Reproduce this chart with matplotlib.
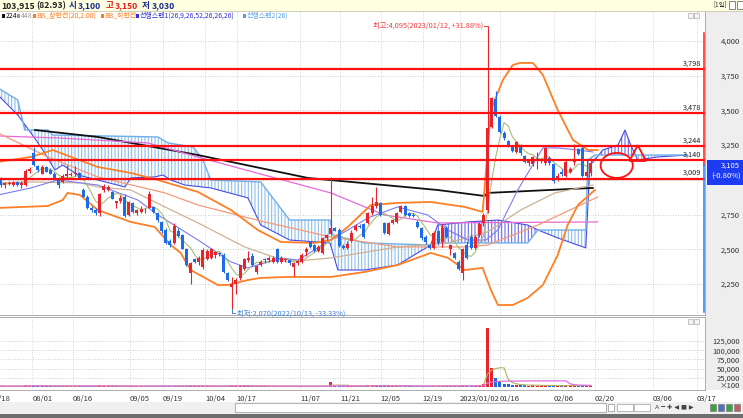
import numpy as np
import pandas as pd
import matplotlib
matplotlib.use('Agg')
import matplotlib.pyplot as plt
from matplotlib.patches import Rectangle, Ellipse, Polygon
import matplotlib.transforms as mtransforms

plt.rcParams['font.family'] = ['Noto Sans CJK KR', 'DejaVu Sans']
plt.rcParams['hatch.linewidth'] = 0.8

# ---------------- data ----------------
# daily candles (index = trading-day slot)
opens = [2985,3005,2960,2970,2965,2985,2965,2960,3065,3195,
         3100,3045,3090,3070,3045,3010,2985,3030,3035,3040,
         3050,2930,2880,2800,2780,2765,2925,2930,2910,2830,
         2850,2880,2745,2830,2765,2770,2785,2800,2805,2765,
         2700,2640,2560,2545,2635,2600,2500,2330,2430,2410,
         2370,2430,2440,2460,2470,2460,2330,2230,2250,2290,
         2360,2420,2450,2340,2390,2430,2425,2410,2500,2410,
         2420,2420,2370,2400,2410,2480,2550,2530,2490,2470,
         2580,2610,2650,2640,2525,2510,2560,2640,2670,2680,
         2690,2760,2810,2830,2690,2610,2690,2700,2770,2810,
         2760,2750,2700,2650,2590,2530,2510,2630,2550,2650,
         2500,2470,2410,2330,2530,2590,2510,2600,2690,2780,
         3380,3580,3455,3340,3280,3240,3200,3250,3170,3120,
         3115,3140,3140,3120,3160,3115,3000,3060,3030,3060,
         3130,3220,3230,3030,3050]
highs = [3000,3020,2985,2990,2995,2990,2990,3075,3090,3240,
         3110,3105,3100,3085,3055,3020,3040,3110,3060,3100,
         3060,2945,2890,2815,2800,2905,2970,2965,2920,2850,
         2890,2895,2850,2840,2790,2810,2800,2920,2815,2770,
         2705,2650,2575,2690,2650,2610,2510,2410,2440,2450,
         2510,2500,2510,2490,2480,2470,2335,2300,2290,2390,
         2440,2490,2470,2390,2420,2440,2450,2450,2510,2450,
         2440,2430,2410,2420,2470,2520,2560,2540,2530,2590,
         2610,3020,2660,2650,2540,2560,2640,2680,2680,2690,
         2770,2880,2950,2840,2700,2700,2720,2770,2820,2820,
         2770,2760,2710,2660,2600,2540,2630,2640,2680,2665,
         2540,2480,2420,2510,2560,2610,2600,2700,2760,4095,
         3600,3640,3470,3350,3290,3250,3280,3260,3180,3150,
         3170,3200,3160,3240,3170,3120,3050,3080,3150,3090,
         3260,3230,3240,3140,3150]
lows = [2965,2950,2945,2960,2955,2955,2945,2955,3050,3100,
        3060,3040,3055,3040,3010,2940,2975,3020,3025,3030,
        3005,2875,2790,2770,2750,2740,2915,2920,2860,2800,
        2830,2730,2740,2760,2750,2760,2760,2795,2760,2700,
        2620,2540,2520,2540,2590,2500,2380,2250,2400,2390,
        2360,2420,2430,2440,2455,2330,2270,2070,2180,2280,
        2350,2410,2380,2320,2380,2400,2410,2400,2400,2400,
        2410,2390,2310,2390,2400,2450,2510,2480,2480,2465,
        2570,2600,2630,2520,2500,2500,2550,2630,2650,2580,
        2680,2750,2800,2740,2610,2600,2680,2690,2760,2740,
        2730,2735,2650,2570,2540,2500,2500,2530,2520,2580,
        2460,2430,2350,2280,2430,2500,2500,2590,2670,2760,
        3370,3455,3340,3290,3240,3200,3190,3180,3120,3100,
        3100,3080,3120,3110,3110,2980,2990,3030,3020,3050,
        3110,3180,3020,3020,3030]
closes = [2975,2960,2975,2980,2985,2965,2980,3065,3080,3105,
          3070,3095,3060,3045,3015,2960,3025,3040,3045,3050,
          3010,2880,2800,2780,2765,2895,2955,2950,2865,2845,
          2870,2740,2840,2770,2785,2790,2780,2900,2770,2710,
          2630,2545,2530,2670,2595,2505,2390,2400,2410,2440,
          2495,2490,2500,2480,2465,2340,2280,2250,2280,2385,
          2430,2440,2390,2380,2410,2420,2440,2435,2410,2440,
          2430,2400,2400,2415,2460,2500,2515,2490,2520,2580,
          2605,2650,2635,2525,2510,2540,2620,2670,2660,2590,
          2760,2815,2840,2750,2620,2690,2710,2760,2810,2750,
          2740,2740,2660,2580,2550,2510,2615,2545,2650,2590,
          2530,2440,2360,2500,2440,2510,2590,2680,2750,3370,
          3590,3460,3345,3300,3245,3205,3270,3190,3130,3145,
          3165,3150,3150,3230,3120,2990,3030,3040,3130,3075,
          3140,3185,3030,3060,3125]
# volume (x100 shares)
volumes = [2600,3100,2200,2400,2900,2100,2500,5200,3600,6100,
           3300,3000,2600,2300,2500,3400,2900,3300,2400,2600,
           2300,3800,3500,2600,2400,4800,3900,2800,2500,2300,
           2200,3600,3000,2400,2000,1900,1800,4100,2600,2400,
           2800,3500,2600,3900,2400,2700,3900,5600,2300,2200,
           3600,2600,2500,2200,1800,3100,3300,6200,3400,3900,
           3300,2900,2600,2400,2100,2000,2100,1900,2800,2000,
           1900,2000,2400,1900,2300,2700,2500,2200,2300,3600,
           3000,13500,3600,3300,2400,2300,3100,2800,2000,2600,
           4300,5200,5900,3500,3300,2800,2300,2900,3100,2700,
           2200,1900,2300,2600,2400,2300,3400,2900,3600,2800,
           2700,2600,3300,5100,3600,3200,3000,4400,9500,161000,
           52000,24000,15000,9000,7000,6000,6500,5200,4800,4200,
           4500,4000,3500,5200,3800,5600,3600,3100,4300,3300,
           4700,3900,5400,3600,3300]

# indicator lines (slot, price)
ma224_x = [9.3, 24.5, 48.8, 75.4, 106.9, 118.3, 119.0, 144.5]
ma224_y = [3359, 3309, 3179, 3014, 2927, 2884, 2906, 2942]
pink_x = [0.3, 14.8, 36.6, 48.8, 58.5, 81.0, 94.0, 106.9, 145.7]
pink_y = [3316, 3302, 3266, 3165, 3086, 2906, 2747, 2690, 2697]
salmon_x = [0.3, 12.4, 24.5, 40.8, 48.8, 60.1, 65.0, 81.0, 97.2, 113.5, 119.0, 131.2, 145.7]
salmon_y = [3338, 3165, 3021, 2906, 2819, 2733, 2697, 2589, 2517, 2517, 2531, 2675, 2877]
tan_x = [0.3, 8.3, 20.4, 24.5, 32.5, 40.8, 48.8, 60.1, 70.6, 81.0, 97.2, 109.4, 119.0, 127.0, 135.3, 144.5]
tan_y = [2978, 2985, 2978, 2949, 2927, 2805, 2690, 2517, 2409, 2438, 2517, 2546, 2625, 2783, 2906, 2963]
base_x = [0.3, 8.3, 14.8, 24.5, 34.2, 39.1, 48.8, 56.8, 60.9, 68.9, 73.0, 81.0, 85.1, 90.0, 97.2,
          104.5, 109.4, 114.2, 118.6, 121.5, 126.3, 132.4, 136.0, 140.9, 144.5]
base_y = [2891, 2942, 2999, 2963, 2855, 2747, 2567, 2409, 2366, 2438, 2423, 2567, 2639, 2726, 2805,
          2747, 2639, 2567, 2567, 2639, 2927, 3230, 3230, 3215, 3201]
bb_up_x = [0.3, 8.3, 13.6, 24.5, 32.5, 39.1, 48.8, 56.8, 63.3, 68.9, 77.1, 81.0, 85.1, 90.7, 97.2,
           105.2, 113.5, 117.8, 119.8, 122.7, 125.1, 126.8, 130.0, 132.4, 136.0, 139.7, 143.3, 145.7]
bb_up_y = [3129, 3165, 3215, 3093, 3050, 2999, 2913, 2783, 2639, 2553, 2546, 2567, 2661, 2819, 2834,
           2841, 2805, 2769, 3503, 3719, 3827, 3842, 3842, 3755, 3503, 3287, 3215, 3215]
bb_dn_x = [0.3, 12.4, 16.0, 17.2, 20.2, 24.5, 32.5, 38.3, 42.2, 44.6, 47.0, 50.5, 53.6, 56.0, 60.9,
           64.0, 70.6, 81.0, 89.2, 97.2, 105.2, 109.4, 113.5, 117.8, 119.8, 121.5, 125.1, 128.7,
           132.4, 136.0, 138.4, 140.9, 145.0]
bb_dn_y = [2798, 2812, 2855, 2906, 2891, 2783, 2697, 2661, 2531, 2474, 2351, 2294, 2243, 2243, 2279,
           2294, 2301, 2301, 2337, 2387, 2474, 2438, 2351, 2366, 2207, 2099, 2099, 2150,
           2243, 2459, 2675, 2819, 2927]
span1_x = [0.3, 5.1, 8.3, 11.2, 14.1, 16.0, 19.7, 24.5, 31.1, 32.5, 38.3, 40.3, 42.2, 45.6, 51.9,
           60.9, 64.0, 71.0, 80.8, 82.7, 89.2, 97.2, 105.2, 106.9, 114.2, 121.5, 128.7, 131.2,
           136.0, 142.8, 143.8, 145.0, 146.9, 150.6, 152.3, 153.7, 155.4, 160.2, 167.5]
span1_y = [3611, 3467, 3338, 3215, 3071, 3107, 3035, 2999, 2949, 3014, 3021, 3035, 2999, 2963, 2942,
           2870, 2675, 2567, 2546, 2351, 2351, 2387, 2531, 2675, 2697, 2711, 2675, 2639,
           2582, 2510, 3107, 3143, 3215, 3251, 3359, 3251, 3143, 3165, 3179]
span2_x = [0.3, 5.1, 6.8, 12.4, 13.6, 39.1, 41.5, 47.6, 50.0, 51.9, 64.0, 71.0, 80.8, 81.5, 89.2,
           105.2, 106.9, 128.7, 131.2, 142.8, 143.3, 145.0, 167.5]
span2_y = [3662, 3575, 3359, 3359, 3323, 3309, 3266, 3237, 3143, 2999, 2985, 2711, 2711, 2603, 2546,
           2531, 2546, 2546, 2639, 2639, 3143, 3179, 3179]

levels = [3798, 3478, 3244, 3140, 3009]
level_labels = ['3,798', '3,478', '3,244', '3,140', '3,009']
price_ticks = [2250, 2500, 2750, 3000, 3250, 3500, 3750, 4000]
vol_ticks = [25000, 50000, 75000, 100000, 125000]
date_labels = ['07/18', '08/01', '08/16', '09/05', '09/19', '10/04', '10/17', '11/07', '11/21',
               '12/05', '12/19', '2023/01/02', '01/16', '02/06', '02/20', '03/06', '03/17']
date_pos = [-1.4, 8.6, 18.5, 32.3, 40.3, 50.5, 58.2, 73.5, 83.2, 93.1, 103.3, 112.3, 122.0, 135.1,
            145.0, 159.0, 169.7]

# ---------------- figure ----------------
W, H = 743, 418
fig = plt.figure(figsize=(W / 100, H / 100), dpi=100)
fig.patch.set_facecolor('white')


def box(l, t, r, b):
    return [l / W, 1 - b / H, (r - l) / W, (b - t) / H]


def frect(l, t, r, b, fc, ec='none', z=-1, lw=0.8):
    fig.add_artist(Rectangle((l / W, 1 - b / H), (r - l) / W, (b - t) / H, transform=fig.transFigure,
                             facecolor=fc, edgecolor=ec, lw=lw, zorder=z))


def ftext(x, y, s, **kw):
    fig.text(x / W, 1 - y / H, s, **kw)


# frame pieces
frect(0, 0, 743, 10.5, '#FFFFE1')
fig.add_artist(plt.Line2D([0, 1], [1 - 10.5 / H] * 2, transform=fig.transFigure, color='#C8C8B0', lw=0.6))
frect(706, 11, 743, 390, '#EEEEEE')
frect(0, 402, 743, 414, '#F0F0F0')
frect(0, 414, 743, 418, '#6E6E6E')
frect(235, 403, 606, 412, '#FFFFFF', ec='#B4B4B4', z=0)
frect(608, 404, 614, 411, '#FFFFFF', ec='#909090', z=0, lw=0.5)
frect(617, 404, 633, 411, '#FFFFFF', ec='#A0A0A0', z=0, lw=0.5)
frect(634, 404, 650, 411, '#FFFFFF', ec='#A0A0A0', z=0, lw=0.5)
ftext(655, 407.5, 'A ━ ✚ ◀ ■ ▶', fontsize=4.5, color='#444444', va='center', family='DejaVu Sans')
for ix, c in zip([710, 718, 726, 734], ['#3FA04A', '#4A70C0', '#3FA04A', '#C06060']):
    frect(ix, 404, ix + 6, 411, c, ec='#707070', z=0, lw=0.4)

# top info line
ftext(1, 5.3, '103,915', fontsize=6.2, fontweight='bold', color='#222222', va='center')
ftext(36, 5.3, '(82.93)', fontsize=6.2, fontweight='bold', color='#222222', va='center')
ftext(69, 5.3, '시', fontsize=6.2, fontweight='bold', color='#1A2A8A', va='center')
ftext(78, 5.3, '3,100', fontsize=6.2, fontweight='bold', color='#1A2A8A', va='center')
ftext(106, 5.3, '고', fontsize=6.2, fontweight='bold', color='#E02020', va='center')
ftext(115, 5.3, '3,150', fontsize=6.2, fontweight='bold', color='#E02020', va='center')
ftext(142, 5.3, '저', fontsize=6.2, fontweight='bold', color='#1A2A8A', va='center')
ftext(152, 5.3, '3,030', fontsize=6.2, fontweight='bold', color='#1A2A8A', va='center')
ftext(727, 4.8, '[1일]', fontsize=4.6, color='#333333', va='center', ha='right')
frect(729, 1.5, 735, 8.5, '#FFFFFF', ec='#555555', z=0, lw=0.5)
frect(736.5, 1.5, 742.5, 8.5, '#FFFFFF', ec='#555555', z=0, lw=0.5)

# legend row (inside price panel)
legend_items = [(2, '224', '#111111'), (17, '448', '#999999'), (33, 'BB_상한선(20,2.00)', '#FF7A1A'),
                (101, 'BB_하한선', '#FF7A1A'), (136, '선행스팬1(26,9,26,52,26,26,26)', '#3030D0'),
                (243, '선행스팬2(26)', '#5AA0E6')]
for lx, s, c in legend_items:
    frect(lx, 14, lx + 2.5, 17.5, c, z=5)
    ftext(lx + 3.5, 16, s, fontsize=5.0, color=c, va='center', zorder=6)

# ---------------- price axes ----------------
ax = fig.add_axes(box(0, 11, 705, 315))
idx = np.arange(len(closes))
op, hi, lo, cl = map(np.array, (opens, highs, lows, closes))
up = cl >= op
red, blue = '#E8232B', '#1E6BE6'
cols = np.where(up, red, blue)

ax.set_xlim(0.8, 171.7)
ax.set_ylim(2027, 4216)
ax.set_yticks(price_ticks)
ax.set_yticklabels([f'{t:,}' for t in price_ticks])
ax.yaxis.tick_right()
ax.tick_params(axis='y', length=0, pad=25, labelsize=5.5, labelcolor='#333333')
for lab in ax.get_yticklabels():
    lab.set_horizontalalignment('right')
ax.set_xticks([])
ax.grid(axis='y', ls=(0, (1, 2)), color='#BDBDBD', lw=0.6)
for p in date_pos:
    ax.axvline(p, ls=(0, (1, 2)), color='#C8C8C8', lw=0.6, zorder=0)
for sp in ax.spines.values():
    sp.set_color('#A0A0A0')
    sp.set_linewidth(0.6)
ax.spines['top'].set_visible(False)
ax.spines['left'].set_visible(False)

# ichimoku cloud
cx = np.union1d(span1_x, span2_x)
a = np.interp(cx, span1_x, span1_y)
b = np.interp(cx, span2_x, span2_y)
ax.fill_between(cx, a, b, where=b >= a, interpolate=True, facecolor='none', edgecolor='#8CBDEB',
                hatch='|||||', linewidth=0, zorder=1)
ax.fill_between(cx, a, b, where=a > b, interpolate=True, facecolor='none', edgecolor='#6A6AE8',
                hatch='|||||', linewidth=0, zorder=1)
ax.plot(span1_x, span1_y, color='#4A4AE0', lw=0.8, zorder=2)
ax.plot(span2_x, span2_y, color='#6EB0EA', lw=1.0, zorder=2)

# moving averages / bands
ax.plot(ma224_x, ma224_y, color='#111111', lw=1.3, zorder=3)
ax.plot(pink_x, pink_y, color='#E66AD8', lw=0.9, zorder=3)
ax.plot(salmon_x, salmon_y, color='#F59A7A', lw=0.9, zorder=3)
ax.plot(tan_x, tan_y, color='#CDB296', lw=0.9, zorder=3)
ax.plot(base_x, base_y, color='#7C7CF0', lw=0.8, zorder=3)
ma5 = pd.Series(closes).rolling(5, min_periods=1).mean()
ax.plot(idx, ma5, color='#A9BE78', lw=0.8, zorder=3)
ax.plot(bb_up_x, bb_up_y, color='#FF7F24', lw=1.3, zorder=3)
ax.plot(bb_dn_x, bb_dn_y, color='#FF7F24', lw=1.3, zorder=3)

# candles
ax.vlines(idx, lo, hi, colors=cols, lw=0.8, zorder=4)
bodies = np.abs(cl - op)
ax.bar(idx, np.maximum(bodies, 6), bottom=np.minimum(op, cl), width=0.72, color=cols, zorder=5, linewidth=0)

# support / resistance levels
for lv, lab in zip(levels, level_labels):
    ax.axhline(lv, color='#FF1010', lw=1.6, zorder=6)
    ax.text(170.8, lv + 12, lab, ha='right', va='bottom', fontsize=5.3, color='#222222', zorder=7)

# hand-drawn marks
ax.add_patch(Ellipse((150.3, 3104), 7.8, 180, facecolor='none', edgecolor='#FF1010', lw=1.3, zorder=7))
ax.add_patch(Polygon([[153.4, 3136], [155.4, 3250], [157.4, 3136]], closed=True, facecolor='none',
                     edgecolor='#FF1010', lw=1.3, zorder=7))

# high / low annotations
ax.text(118.0, 4110, '최고:4,095(2023/01/12, +31.88%)', ha='right', va='center', fontsize=5.3,
        color='#F03A3A', zorder=7)
ax.plot([118.1, 119.2, 119.2], [4110, 4110, 4085], color='#F03A3A', lw=0.7, zorder=7)
ax.plot([57, 57, 57.8], [2068, 2040, 2040], color='#3F7FD9', lw=0.7, zorder=7, clip_on=False)
ax.text(58.2, 2040, '최저:2,070(2022/10/13, -33.33%)', ha='left', va='center', fontsize=5.3,
        color='#3F7FD9', zorder=7, clip_on=False)

# small panel buttons
frect(688, 13, 693, 18, '#F4F4F4', ec='#B0B0B0', z=5, lw=0.5)
frect(694, 13, 699, 18, '#F4F4F4', ec='#B0B0B0', z=5, lw=0.5)
frect(688, 319, 693, 324, '#F4F4F4', ec='#B0B0B0', z=5, lw=0.5)
frect(694, 319, 699, 324, '#F4F4F4', ec='#B0B0B0', z=5, lw=0.5)

# price range bar at right edge
tr = mtransforms.blended_transform_factory(ax.transAxes, ax.transData)
ax.plot([0.9985, 0.9985], [4060, 3105], color='#FF2020', lw=1.1, transform=tr, clip_on=False, zorder=8)
ax.plot([0.9985, 0.9985], [3105, 2050], color='#2080FF', lw=1.1, transform=tr, clip_on=False, zorder=8)

# current price box (covers most of the 3,000 label as in the original)
frect(707, 160, 743, 185, '#1D3BF0', z=5)
ftext(740, 166, '3,105', fontsize=5.5, color='white', ha='right', va='center', zorder=6)
ftext(741, 177, '(-0.80%)', fontsize=5.5, color='white', ha='right', va='center', zorder=6)

# ---------------- volume axes ----------------
axv = fig.add_axes(box(0, 317, 705, 390))
axv.set_xlim(0.8, 171.7)
axv.set_ylim(-8000, 190000)
axv.bar(idx, volumes, width=0.72, color=cols, linewidth=0, zorder=3)
vs = pd.Series(volumes)
axv.plot(idx, vs.rolling(5, min_periods=1).mean(), color='#B0B060', lw=0.8, zorder=4)
axv.plot(idx, vs.rolling(20, min_periods=1).mean(), color='#E070E0', lw=0.9, zorder=4)
axv.set_yticks(vol_ticks)
axv.set_yticklabels([f'{t:,}' for t in vol_ticks])
axv.yaxis.tick_right()
axv.tick_params(axis='y', length=0, pad=25, labelsize=5.5, labelcolor='#333333')
for lab in axv.get_yticklabels():
    lab.set_horizontalalignment('right')
axv.grid(axis='y', ls=(0, (1, 2)), color='#BDBDBD', lw=0.6)
for p in date_pos:
    axv.axvline(p, ls=(0, (1, 2)), color='#C8C8C8', lw=0.6, zorder=0)
axv.set_xticks([])
for sp in axv.spines.values():
    sp.set_color('#A0A0A0')
    sp.set_linewidth(0.6)
axv.spines['left'].set_visible(False)
ftext(740, 386, '×100', fontsize=5.5, color='#333333', ha='right', va='center')

trx = mtransforms.blended_transform_factory(axv.transData, axv.transAxes)
for p, s in zip(date_pos, date_labels):
    axv.text(p, -0.07, s, transform=trx, ha='left', va='top', fontsize=5.5, color='#333333',
             clip_on=False)

fig.savefig('out.png', dpi=100)
